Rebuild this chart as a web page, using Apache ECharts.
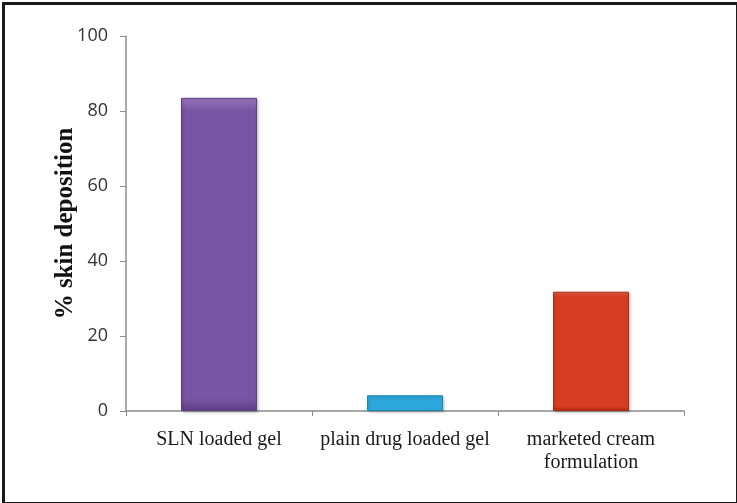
<!DOCTYPE html>
<html><head><meta charset="utf-8">
<script src="https://cdn.jsdelivr.net/npm/echarts@6/dist/echarts.min.js"></script>
<style>html,body{margin:0;padding:0;background:#fff}#c{width:737px;height:503px}</style>
</head><body><div id="c"></div>
<script>
const categories = ['SLN loaded gel', 'plain drug loaded gel', 'marketed cream\nformulation'];
const values = [83.5, 4.2, 31.8];
const yTicks = [0, 20, 40, 60, 80, 100];
const colors = [['#9a78c0', '#7a55a3', '#5e3f85'], ['#6cc8ee', '#2ea7dc', '#1b86b8'], ['#e8644a', '#d63d22', '#b02c15']];

const chart = echarts.init(document.getElementById('c'));
chart.setOption({
  animation: false,
  backgroundColor: '#fff',
  grid: { left: 126, right: 53, top: 36, bottom: 92 },
  xAxis: {
    type: 'category', data: categories,
    axisLine: { lineStyle: { color: '#8c8c8c', width: 1.5 } },
    axisTick: { show: true, length: 5, lineStyle: { color: '#8c8c8c' } },
    axisLabel: { interval: 0, fontFamily: 'Liberation Serif', fontSize: 20, color: '#1a1a1a', margin: 17, lineHeight: 23 }
  },
  yAxis: {
    type: 'value', min: yTicks[0], max: yTicks[yTicks.length - 1], interval: 20,
    name: '% skin deposition', nameLocation: 'middle', nameGap: 48, nameRotate: 90, nameMoveOverlap: false,
    nameTextStyle: { fontFamily: 'Liberation Serif', fontWeight: 'bold', fontSize: 25, color: '#111' },
    axisLine: { show: true, lineStyle: { color: '#8c8c8c', width: 1.5 } },
    axisTick: { show: true, length: 6, lineStyle: { color: '#8c8c8c' } },
    splitLine: { show: false },
    axisLabel: { fontFamily: 'Open Sans', fontSize: 18, color: '#333', margin: 18 }
  },
  series: [{
    type: 'bar',
    barWidth: 76,
    data: values.map((v, i) => ({
      value: v,
      itemStyle: {
        color: new echarts.graphic.LinearGradient(0, 0, 0, 1, [
          { offset: 0, color: colors[i][0] },
          { offset: 0.04, color: colors[i][1] },
          { offset: 0.96, color: colors[i][1] },
          { offset: 1, color: colors[i][2] }
        ]),
        borderColor: colors[i][2], borderWidth: 1,
        shadowColor: 'rgba(0,0,0,0.25)', shadowBlur: 3, shadowOffsetX: 1, shadowOffsetY: 1
      }
    }))
  }],
  graphic: [{
    type: 'rect', left: 1, top: 1, z: 100,
    shape: { width: 734, height: 500 },
    style: { fill: 'none', stroke: '#1a1a1a', lineWidth: 3 }
  }]
});
</script></body></html>
